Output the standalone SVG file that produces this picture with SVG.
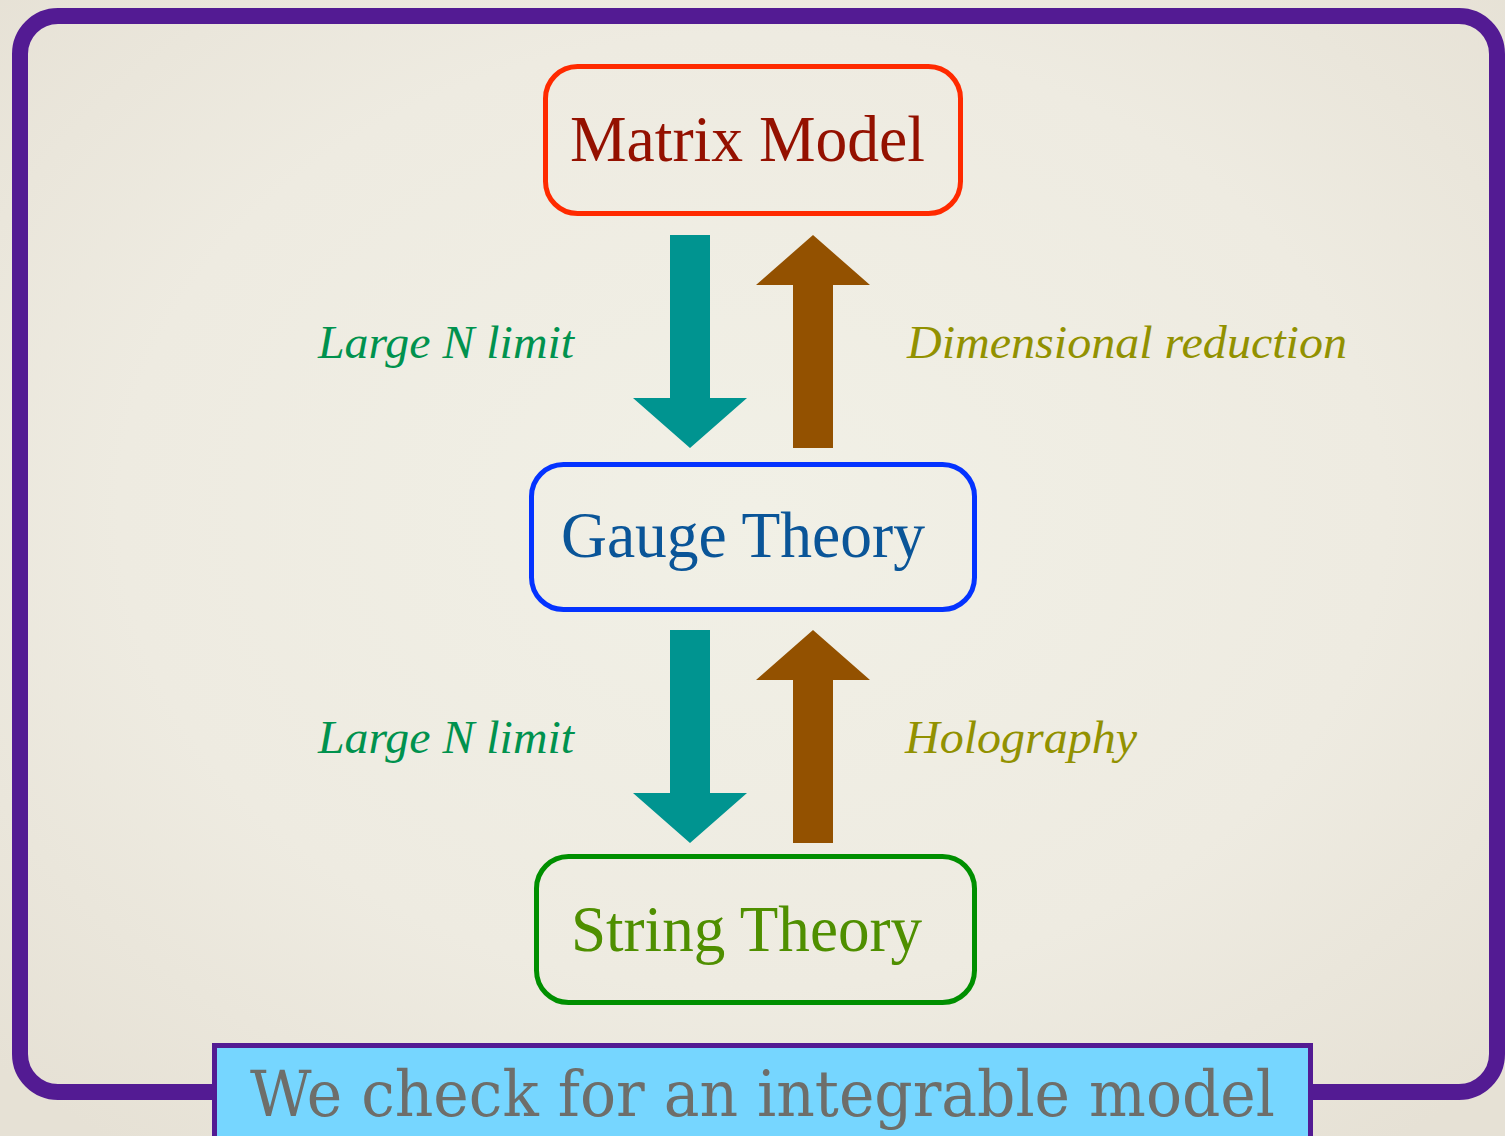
<svg xmlns="http://www.w3.org/2000/svg" width="1505" height="1136" viewBox="0 0 1505 1136">
  <defs>
    <radialGradient id="bg" cx="50%" cy="45%" r="70%">
      <stop offset="0" stop-color="#F1F0E6"/>
      <stop offset="0.6" stop-color="#EEEBE1"/>
      <stop offset="1" stop-color="#E6E1D5"/>
    </radialGradient>
    <style>
      .box { fill: none; stroke-width: 5; }
      .title { font-family: "Liberation Serif", "Times New Roman", serif; font-size: 66px; }
      .lbl { font-family: "Liberation Serif", "Times New Roman", serif; font-style: italic; font-size: 46px; }
      .green { fill: #00924E; }
      .olive { fill: #929100; }
      .down { fill: #009490; }
      .up { fill: #935100; }
    </style>
  </defs>
  <rect x="0" y="0" width="1505" height="1136" fill="url(#bg)"/>
  <g id="frame">
    <rect x="20" y="16" width="1477" height="1076" rx="38" ry="38" fill="none" stroke="#531B93" stroke-width="16"/>
  </g>
  <g id="connectors">
    <polygon class="down" points="670,235 710,235 710,398 747,398 690,448 633,398 670,398"/>
    <polygon class="up" points="813,235 870,285 833,285 833,448 793,448 793,285 756,285"/>
    <polygon class="down" points="670,630 710,630 710,793 747,793 690,843 633,793 670,793"/>
    <polygon class="up" points="813,630 870,680 833,680 833,843 793,843 793,680 756,680"/>
    <text class="lbl green" x="318" y="358" textLength="256" lengthAdjust="spacingAndGlyphs">Large N limit</text>
    <text class="lbl olive" x="907" y="358" textLength="440" lengthAdjust="spacingAndGlyphs">Dimensional reduction</text>
    <text class="lbl green" x="318" y="753" textLength="256" lengthAdjust="spacingAndGlyphs">Large N limit</text>
    <text class="lbl olive" x="905" y="753" textLength="232" lengthAdjust="spacingAndGlyphs">Holography</text>
  </g>
  <g id="matrix-model">
    <rect class="box" x="545.5" y="66.5" width="415" height="147" rx="32" ry="32" stroke="#FF2A00"/>
    <text class="title" x="570" y="161" fill="#941100" textLength="355" lengthAdjust="spacingAndGlyphs">Matrix Model</text>
  </g>
  <g id="gauge-theory">
    <rect class="box" x="531.5" y="464.5" width="443" height="145" rx="32" ry="32" stroke="#0433FF"/>
    <text class="title" x="561" y="557" fill="#0A5598" textLength="364" lengthAdjust="spacingAndGlyphs">Gauge Theory</text>
  </g>
  <g id="string-theory">
    <rect class="box" x="536.5" y="856.5" width="438" height="146" rx="32" ry="32" stroke="#008F00"/>
    <text class="title" x="571" y="951" fill="#4F8F00" textLength="351" lengthAdjust="spacingAndGlyphs">String Theory</text>
  </g>
  <g id="caption">
    <rect x="214.5" y="1045.5" width="1096" height="100" fill="#76D6FF" stroke="#531B93" stroke-width="5"/>
    <text x="250" y="1116" fill="#6E6E6A" font-family="'DejaVu Serif', 'Liberation Serif', serif" font-size="64" textLength="1025" lengthAdjust="spacingAndGlyphs">We check for an integrable model</text>
  </g>
</svg>
